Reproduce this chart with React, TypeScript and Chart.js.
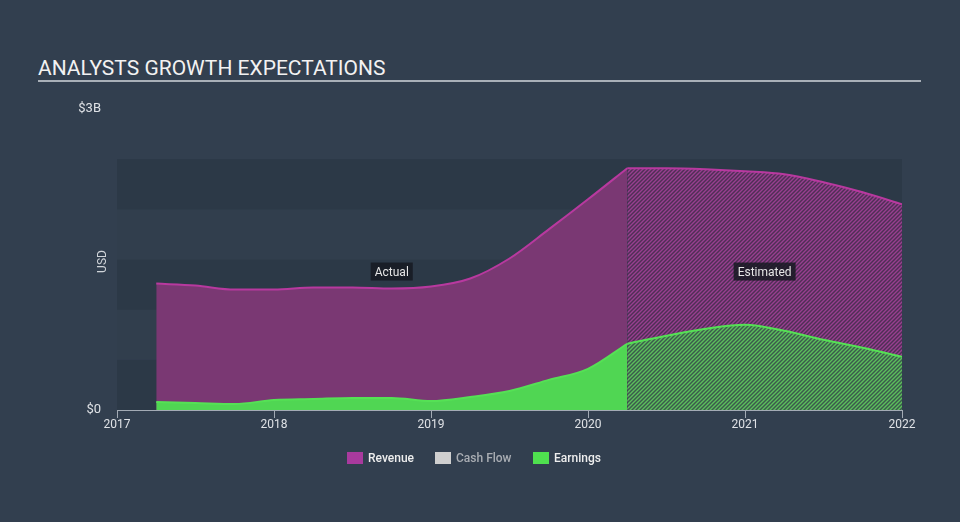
import React, { useEffect, useRef } from "react";
import { Chart, registerables } from "chart.js";

Chart.register(...registerables);

const periods = [2017.25, 2017.5, 2017.75, 2018, 2018.25, 2018.5, 2018.75, 2019, 2019.25, 2019.5, 2019.75, 2020, 2020.25, 2020.5, 2020.75, 2021, 2021.25, 2021.5, 2021.75, 2022];
const revenue = [1.26, 1.24, 1.2, 1.2, 1.22, 1.22, 1.21, 1.23, 1.31, 1.51, 1.8, 2.1, 2.41, 2.41, 2.4, 2.38, 2.35, 2.27, 2.17, 2.05];
const earnings = [0.08, 0.07, 0.06, 0.1, 0.11, 0.12, 0.12, 0.09, 0.13, 0.19, 0.3, 0.41, 0.66, 0.74, 0.81, 0.85, 0.79, 0.7, 0.62, 0.53];
const estimateStart = 2020.25;
const xTickYears = [2017, 2018, 2019, 2020, 2021, 2022];
const yTickValues = [0, 3];
const bandEdges = [0, 0.5, 1, 1.5, 2, 2.5];

const BG = "#323f4f";

function makeHatch(bg: string, fg: string) {
  const c = document.createElement("canvas");
  c.width = 4;
  c.height = 4;
  const g = c.getContext("2d")!;
  g.fillStyle = bg;
  g.fillRect(0, 0, 4, 4);
  g.strokeStyle = fg;
  g.lineWidth = 1.4;
  g.beginPath();
  g.moveTo(0, 4);
  g.lineTo(4, 0);
  g.moveTo(-1, 1);
  g.lineTo(1, -1);
  g.moveTo(3, 5);
  g.lineTo(5, 3);
  g.stroke();
  return g.createPattern(c, "repeat")!;
}

function pts(values: number[], estimated: boolean) {
  return periods
    .map((p, i) => ({ x: p, y: values[i] }))
    .filter((d) => (estimated ? d.x >= estimateStart : d.x <= estimateStart));
}

export default function App() {
  const ref = useRef<HTMLCanvasElement>(null);

  useEffect(() => {
    if (!ref.current) return;
    Chart.defaults.font.family = "Roboto";
    const revHatch = makeHatch("#4e2f55", "#983f90");
    const earnHatch = makeHatch("#3b5a4c", "#5cbf5c");

    const bandsPlugin = {
      id: "bands",
      beforeDatasetsDraw(chart: any) {
        const { ctx, chartArea, scales } = chart;
        const y = scales.y;
        ctx.save();
        for (let i = 0; i < bandEdges.length - 1; i++) {
          const top = y.getPixelForValue(bandEdges[i + 1]);
          const bot = y.getPixelForValue(bandEdges[i]);
          ctx.fillStyle = i % 2 === 0 ? "#2c3947" : "#313e4d";
          ctx.fillRect(chartArea.left, top, chartArea.right - chartArea.left, bot - top);
        }
        ctx.restore();
      },
    };

    const labelsPlugin = {
      id: "labels",
      afterDatasetsDraw(chart: any) {
        const { ctx, scales, chartArea } = chart;
        const x = scales.x;
        const y = scales.y;
        ctx.save();
        ctx.font = "12px Roboto";
        ctx.textAlign = "center";
        ctx.textBaseline = "middle";
        const tags: [string, number][] = [
          ["Actual", (periods[0] + estimateStart) / 2],
          ["Estimated", (estimateStart + periods[periods.length - 1]) / 2],
        ];
        const ly = y.getPixelForValue(1.38);
        for (const [t, v] of tags) {
          const px = x.getPixelForValue(v);
          const w = ctx.measureText(t).width + 8;
          ctx.fillStyle = "rgba(22,26,34,0.85)";
          ctx.fillRect(px - w / 2, ly - 9, w, 18);
          ctx.fillStyle = "#e6e6e6";
          ctx.fillText(t, px, ly + 1);
        }
        ctx.translate(chartArea.left - 14, (chartArea.top + chartArea.bottom) / 2 + 2);
        ctx.rotate(-Math.PI / 2);
        ctx.fillStyle = "#d0d4d9";
        ctx.font = "12px Roboto";
        ctx.fillText("USD", 0, 0);
        ctx.restore();
      },
    };

    const common = {
      borderWidth: 2,
      fill: "origin",
      pointRadius: 0,
      cubicInterpolationMode: "monotone",
    };

    const chart = new Chart(ref.current, {
      type: "line",
      data: {
        datasets: [
          { ...common, label: "Revenue", data: pts(revenue, false), borderColor: "#b8399f", backgroundColor: "#7a3873", order: 4 } as any,
          { ...common, label: "Revenue (estimated)", data: pts(revenue, true), borderColor: "#b8399f", backgroundColor: revHatch, order: 3 } as any,
          { ...common, label: "Earnings", data: pts(earnings, false), borderColor: "#55e155", backgroundColor: "#50d653", order: 2 } as any,
          { ...common, label: "Earnings (estimated)", data: pts(earnings, true), borderColor: "#55e155", backgroundColor: earnHatch, order: 1 } as any,
        ],
      },
      options: {
        animation: false,
        responsive: false,
        layout: { padding: { top: 109, right: 58, bottom: 82, left: 0 } },
        plugins: { legend: { display: false }, tooltip: { enabled: false } },
        scales: {
          x: {
            type: "linear",
            min: 2017,
            max: 2022,
            afterBuildTicks: (s: any) => {
              s.ticks = xTickYears.map((v) => ({ value: v }));
            },
            afterFit: (s: any) => {
              s.height = 30;
            },
            ticks: {
              color: "#dfe2e6",
              font: { size: 12 },
              padding: 0,
              maxRotation: 0,
              callback: (v: any) => String(v),
            },
            grid: { drawOnChartArea: false, drawTicks: true, tickLength: 8, color: "#a3abb5" },
            border: { display: true, color: "#a3abb5", width: 1 },
          },
          y: {
            min: 0,
            max: 3,
            afterBuildTicks: (s: any) => {
              s.ticks = yTickValues.map((v) => ({ value: v }));
            },
            afterFit: (s: any) => {
              s.width = 117;
            },
            ticks: {
              color: "#dfe2e6",
              font: { size: 13 },
              padding: 8,
              callback: (v: any) => (v === 0 ? "$0" : `$${v}B`),
            },
            grid: { display: false },
            border: { display: false },
          },
        },
      },
      plugins: [bandsPlugin, labelsPlugin],
    });
    return () => chart.destroy();
  }, []);

  const legendItems: [string, string, string, number][] = [
    ["Revenue", "#a93a9e", "#eeeeee", 347],
    ["Cash Flow", "#cfcfcf", "#a9adb3", 435],
    ["Earnings", "#4fe04f", "#eeeeee", 533],
  ];

  return (
    <div style={{ position: "absolute", left: 0, top: 0, width: 960, height: 522, background: BG, overflow: "hidden", fontFamily: "Roboto" }}>
      <div style={{ position: "absolute", left: 38, top: 58, fontSize: 21, lineHeight: "20px", color: "#f2f2f2", whiteSpace: "nowrap" }}>
        ANALYSTS GROWTH EXPECTATIONS
      </div>
      <div style={{ position: "absolute", left: 38, top: 80, width: 883, height: 2, background: "#a9b0b8" }} />
      <canvas ref={ref} width={960} height={522} style={{ position: "absolute", left: 0, top: 0 }} />
      {legendItems.map(([t, sw, tc, x]) => (
        <div key={t} style={{ position: "absolute", left: x, top: 451, height: 14, display: "flex", alignItems: "center", whiteSpace: "nowrap" }}>
          <div style={{ width: 16, height: 12, background: sw, marginRight: 5 }} />
          <span style={{ fontSize: 12, fontWeight: 500, color: tc, lineHeight: "14px" }}>{t}</span>
        </div>
      ))}
    </div>
  );
}
